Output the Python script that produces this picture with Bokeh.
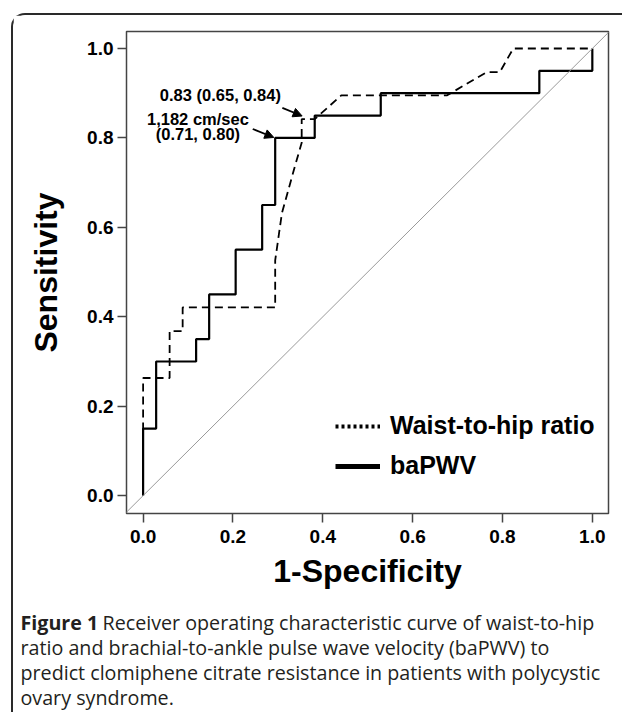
from bokeh.plotting import figure
from bokeh.layouts import column
from bokeh.models import (Range1d, FixedTicker, Label, Arrow, NormalHead, Slope,
                          Legend, LegendItem)
from bokeh.embed import file_html
from bokeh.resources import INLINE

# ---- data ----
whr_fpr = [0, 0, 0.059, 0.059, 0.088, 0.088, 0.294, 0.294, 0.309, 0.338, 0.353, 0.353,
           0.382, 0.441, 0.676, 0.765, 0.794, 0.824, 1.0]
whr_tpr = [0, 0.263, 0.263, 0.368, 0.368, 0.421, 0.421, 0.526, 0.632, 0.737, 0.789, 0.842,
           0.842, 0.895, 0.895, 0.947, 0.947, 1.0, 1.0]

ba_fpr = [0, 0.029, 0.118, 0.147, 0.206, 0.265, 0.294, 0.382, 0.529, 0.882, 1.0, 1.0]
ba_tpr = [0, 0.15, 0.30, 0.35, 0.45, 0.55, 0.65, 0.80, 0.85, 0.90, 0.95, 1.0]

ticks = [0.0, 0.2, 0.4, 0.6, 0.8, 1.0]
tick_labels = ["0.0", "0.2", "0.4", "0.6", "0.8", "1.0"]

series_names = ["Waist-to-hip ratio", "baPWV"]

# cut-off annotations: text, text position, arrow start, arrow end (data units)
annot_text = ["0.83 (0.65, 0.84)", "1,182 cm/sec", "(0.71, 0.80)"]
annot_tx = [0.172, 0.122, 0.122]
annot_ty = [0.8955, 0.842, 0.809]
arrow_x0 = [0.310, 0.244]
arrow_y0 = [0.867, 0.820]
arrow_x1 = [0.354, 0.291]
arrow_y1 = [0.849, 0.801]

caption_bold = "Figure 1"
caption_lines = [
    "Receiver operating characteristic curve of waist-to-hip",
    "ratio and brachial-to-ankle pulse wave velocity (baPWV) to",
    "predict clomiphene citrate resistance in patients with polycystic",
    "ovary syndrome.",
]

FONT = "Liberation Sans"
CAP_FONT = "Open Sans"

p = figure(width=609, height=583, output_backend="svg", toolbar_location=None,
           x_range=Range1d(-0.037, 1.036), y_range=Range1d(-0.04, 1.038),
           min_border_left=113, min_border_right=14, min_border_top=16,
           min_border_bottom=85)
p.frame_align = False
p.background_fill_color = "white"
p.border_fill_color = "white"
p.outline_line_color = "#444444"
p.outline_line_width = 1.5
p.xgrid.visible = False
p.ygrid.visible = False

for ax in (p.xaxis[0], p.yaxis[0]):
    ax.ticker = FixedTicker(ticks=ticks)
    ax.major_label_overrides = {t: l for t, l in zip(ticks, tick_labels)}
    ax.axis_line_color = None
    ax.major_tick_line_color = "#444444"
    ax.major_tick_line_width = 1.5
    ax.major_tick_out = 9
    ax.major_tick_in = 0
    ax.minor_tick_line_color = None
    ax.major_label_text_font = FONT
    ax.major_label_text_font_style = "bold"
    ax.major_label_text_font_size = "19px"
    ax.major_label_text_color = "black"
    ax.axis_label_text_font = FONT
    ax.axis_label_text_font_style = "bold"
    ax.axis_label_text_font_size = "32px"
    ax.axis_label_text_color = "black"

p.xaxis.axis_label = "1-Specificity"
p.yaxis.axis_label = "Sensitivity"
p.xaxis.major_label_standoff = 7
p.yaxis.major_label_standoff = 4
p.xaxis.axis_label_standoff = 7
p.yaxis.axis_label_standoff = 20

# reference diagonal
p.add_layout(Slope(gradient=1, y_intercept=0, line_color="#9a9a9a", line_width=1))

# curves
p.line(whr_fpr, whr_tpr, line_color="black", line_width=1.8, line_dash="8 5")
p.step(ba_fpr, ba_tpr, mode="before", line_color="black", line_width=2.2)

# legend with its own styling (dotted / thick); renderers hold no visible data
nan = float("nan")
leg_whr = p.line([nan], [nan], line_color="black", line_width=4, line_dash="3 3")
leg_ba = p.line([nan], [nan], line_color="black", line_width=5)
legend = Legend(items=[LegendItem(label=series_names[0], renderers=[leg_whr]),
                       LegendItem(label=series_names[1], renderers=[leg_ba])],
                location=(209, 33), padding=0, margin=0, spacing=11,
                glyph_width=45, label_standoff=10,
                label_text_font=FONT, label_text_font_style="bold",
                label_text_font_size="25px", label_text_color="black",
                background_fill_alpha=0, border_line_color=None)
p.add_layout(legend)

# annotations
for t, x, y in zip(annot_text, annot_tx, annot_ty):
    p.add_layout(Label(x=x, y=y, text=t, text_align="center", text_baseline="middle",
                       text_font=FONT, text_font_style="bold", text_font_size="16.5px",
                       text_color="black"))
for x0, y0, x1, y1 in zip(arrow_x0, arrow_y0, arrow_x1, arrow_y1):
    p.add_layout(Arrow(end=NormalHead(size=9, fill_color="black", line_color="black"),
                       x_start=x0, y_start=y0, x_end=x1, y_end=y1,
                       line_color="black", line_width=1.8))

# caption figure: its data space equals page pixels
cap = figure(width=609, height=114, output_backend="svg", toolbar_location=None,
             x_range=Range1d(13, 622), y_range=Range1d(712, 598),
             x_axis_type=None, y_axis_type=None,
             min_border=0, min_border_left=0, min_border_right=0,
             min_border_top=0, min_border_bottom=0)
cap.frame_align = False
cap.outline_line_color = None
cap.xgrid.visible = False
cap.ygrid.visible = False
cap.background_fill_color = "white"
cap.border_fill_color = "white"

CAP_SIZE = "19.7px"
cap_x = 20
cap_x_first = 102
cap_y = [622, 647, 672, 697]
cap.add_layout(Label(x=cap_x, y=cap_y[0], text=caption_bold, text_baseline="middle",
                     text_font=CAP_FONT, text_font_style="bold",
                     text_font_size=CAP_SIZE, text_color="#231f20"))
for i, line in enumerate(caption_lines):
    cap.add_layout(Label(x=cap_x_first if i == 0 else cap_x, y=cap_y[i], text=line,
                         text_baseline="middle", text_font=CAP_FONT,
                         text_font_size=CAP_SIZE, text_color="#231f20"))

layout = column(p, cap, spacing=0,
                styles={"margin-left": "11px", "margin-top": "13px",
                        "border-left": "2px solid #2a2a2a",
                        "border-top": "2px solid #2a2a2a",
                        "border-top-left-radius": "14px"})

open("out.html", "w").write(file_html(layout, INLINE))
